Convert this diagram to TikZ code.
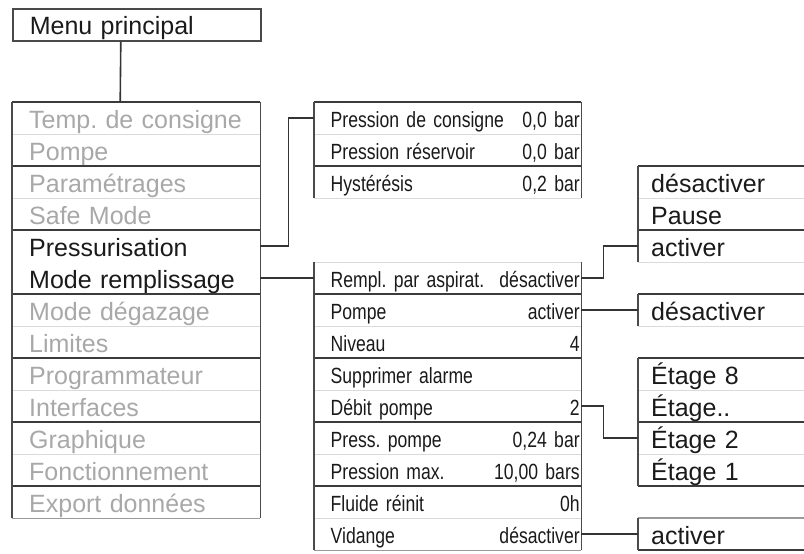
\documentclass[tikz,border=0pt]{standalone}
\usepackage{fontspec}
\setmainfont{Liberation Sans}
\newfontfamily\narrowfont[FakeStretch=0.8]{Liberation Sans}
\usetikzlibrary{positioning}
\frenchspacing

\definecolor{framegray}{HTML}{4A4A4A}
\definecolor{sepgray}{HTML}{DADADA}
\definecolor{endgray}{HTML}{9A9A9A}
\definecolor{dimtext}{HTML}{A8A8A8}
\definecolor{inktext}{HTML}{1A1A1A}

\tikzset{
  menurow/.style = {
    rectangle, inner xsep=0pt, inner ysep=0pt, anchor=north west,
    minimum height=32pt, text width=248pt, align=left,
    text height=24pt, text depth=4pt, text=inktext,
    font=\fontsize{25}{28}\selectfont
  },
  dimrow/.style = { menurow, text=dimtext },
  subrow/.style = {
    rectangle, inner xsep=1.5pt, inner ysep=0pt, anchor=north west,
    minimum height=32pt, text width=264pt, align=left,
    text height=22pt, text depth=4pt, text=inktext,
    font=\narrowfont\fontsize{22}{26}\selectfont
  },
  optrow/.style = { menurow, text width=166pt },
  indent/.style = { execute at begin node={\hspace*{#1}} },
  boxside/.style = { draw=framegray, line width=1.6pt },
  pagebreak/.style = { draw=framegray!80!black, line width=2pt },
  rowsep/.style = { draw=sepgray, line width=1pt },
  openend/.style = { draw=endgray, line width=1.2pt },
  link/.style = { draw=framegray!70!black, line width=1.6pt }
}

\begin{document}
\begin{tikzpicture}[x=1pt, y=-1pt]
  \useasboundingbox (0,0) rectangle (804,554);

    % ------------------------------------------------------------- Top menu
    \node [menurow, indent=17pt, boxside] (menu) at (12,8) {Menu principal};

    % ---------------------------------------------------------- Main list
    \node [dimrow,  indent=17pt] (m1)  at (12,102) {Temp. de consigne};
    \node [dimrow,  indent=17pt] (m2)  at (12,134) {Pompe};
    \node [dimrow,  indent=17pt] (m3)  at (12,166) {Paramétrages};
    \node [dimrow,  indent=17pt] (m4)  at (12,198) {Safe Mode};
    \node [menurow, indent=17pt] (m5)  at (12,230) {Pressurisation};
    \node [menurow, indent=17pt] (m6)  at (12,262) {Mode remplissage};
    \node [dimrow,  indent=17pt] (m7)  at (12,294) {Mode dégazage};
    \node [dimrow,  indent=17pt] (m8)  at (12,326) {Limites};
    \node [dimrow,  indent=17pt] (m9)  at (12,358) {Programmateur};
    \node [dimrow,  indent=17pt] (m10) at (12,390) {Interfaces};
    \node [dimrow,  indent=17pt] (m11) at (12,422) {Graphique};
    \node [dimrow,  indent=17pt] (m12) at (12,454) {Fonctionnement};
    \node [dimrow,  indent=17pt] (m13) at (12,486) {Export données};

    % ---------------------------------------------------- Pressurisation
    \node [subrow, indent=15pt] (p1) at (314,102) {Pression de consigne\hfill 0,0 bar};
    \node [subrow, indent=15pt] (p2) at (314,134) {Pression réservoir\hfill 0,0 bar};
    \node [subrow, indent=15pt] (p3) at (314,166) {Hystérésis\hfill 0,2 bar};

    % -------------------------------------------------- Mode remplissage
    \node [subrow, indent=15pt] (r1) at (314,262) {Rempl. par aspirat.\hfill désactiver};
    \node [subrow, indent=15pt] (r2) at (314,294) {Pompe\hfill activer};
    \node [subrow, indent=15pt] (r3) at (314,326) {Niveau\hfill 4};
    \node [subrow, indent=15pt] (r4) at (314,358) {Supprimer alarme};
    \node [subrow, indent=15pt] (r5) at (314,390) {Débit pompe\hfill 2};
    \node [subrow, indent=15pt] (r6) at (314,422) {Press. pompe\hfill 0,24 bar};
    \node [subrow, indent=15pt] (r7) at (314,454) {Pression max.\hfill 10,00 bars};
    \node [subrow, indent=15pt] (r8) at (314,486) {Fluide réinit\hfill 0h};
    \node [subrow, indent=15pt] (r9) at (314,518) {Vidange\hfill désactiver};

    % ----------------------------------------------------------- Options
    \node [optrow, indent=13pt] (a1) at (638,166) {désactiver};
    \node [optrow, indent=13pt] (a2) at (638,198) {Pause};
    \node [optrow, indent=13pt] (a3) at (638,230) {activer};

    \node [optrow, indent=13pt] (d1) at (638,294) {désactiver};

    \node [optrow, indent=13pt] (e1) at (638,358) {Étage 8};
    \node [optrow, indent=13pt] (e2) at (638,390) {Étage..};
    \node [optrow, indent=13pt] (e3) at (638,422) {Étage 2};
    \node [optrow, indent=13pt] (e4) at (638,454) {Étage 1};

    \node [optrow, indent=13pt] (v1) at (638,518) {activer};

    % -------------------------------------------------- Main list lines
    \draw [pagebreak] (m1.north west)  -- (m1.north east);
    \draw [rowsep]    (m1.south west)  -- (m1.south east);
    \draw [pagebreak] (m2.south west)  -- (m2.south east);
    \draw [rowsep]    (m3.south west)  -- (m3.south east);
    \draw [pagebreak] (m4.south west)  -- (m4.south east);
    \draw [pagebreak] (m6.south west)  -- (m6.south east);
    \draw [rowsep]    (m7.south west)  -- (m7.south east);
    \draw [pagebreak] (m8.south west)  -- (m8.south east);
    \draw [rowsep]    (m9.south west)  -- (m9.south east);
    \draw [pagebreak] (m10.south west) -- (m10.south east);
    \draw [rowsep]    (m11.south west) -- (m11.south east);
    \draw [pagebreak] (m12.south west) -- (m12.south east);
    \draw [openend]   (m13.south west) -- (m13.south east);
    \draw [boxside]   (m1.north west)  -- (m13.south west);
    \draw [boxside]   (m1.north east)  -- (m13.south east);

    % ------------------------------------------------ Sub list lines
    \draw [pagebreak] (p1.north west) -- (p1.north east);
    \draw [rowsep]    (p1.south west) -- (p1.south east);
    \draw [pagebreak] (p2.south west) -- (p2.south east);
    \draw [rowsep]    (p3.south west) -- (p3.south east);
    \draw [boxside]   (p1.north west) -- (p3.south west);
    \draw [boxside]   (p1.north east) -- (p3.south east);

    \draw [rowsep]    (r1.north west) -- (r1.north east);
    \draw [pagebreak] (r1.south west) -- (r1.south east);
    \draw [rowsep]    (r2.south west) -- (r2.south east);
    \draw [pagebreak] (r3.south west) -- (r3.south east);
    \draw [rowsep]    (r4.south west) -- (r4.south east);
    \draw [pagebreak] (r5.south west) -- (r5.south east);
    \draw [rowsep]    (r6.south west) -- (r6.south east);
    \draw [pagebreak] (r7.south west) -- (r7.south east);
    \draw [rowsep]    (r8.south west) -- (r8.south east);
    \draw [openend]   (r9.south west) -- (r9.south east);
    \draw [boxside]   (r1.north west) -- (r9.south west);
    \draw [boxside]   (r1.north east) -- (r9.south east);

    % --------------------------------------------------- Option lines
    \draw [pagebreak] (a1.north west) -- (a1.north east);
    \draw [rowsep]    (a1.south west) -- (a1.south east);
    \draw [pagebreak] (a2.south west) -- (a2.south east);
    \draw [rowsep]    (a3.south west) -- (a3.south east);
    \draw [boxside]   (a1.north west) -- (a3.south west);

    \draw [pagebreak] (d1.north west) -- (d1.north east);
    \draw [rowsep]    (d1.south west) -- (d1.south east);
    \draw [boxside]   (d1.north west) -- (d1.south west);

    \draw [pagebreak] (e1.north west) -- (e1.north east);
    \draw [rowsep]    (e1.south west) -- (e1.south east);
    \draw [pagebreak] (e2.south west) -- (e2.south east);
    \draw [rowsep]    (e3.south west) -- (e3.south east);
    \draw [pagebreak] (e4.south west) -- (e4.south east);
    \draw [boxside]   (e1.north west) -- (e4.south west);

    \draw [openend]   (v1.north west) -- (v1.north east);
    \draw [pagebreak] (v1.south west) -- (v1.south east);
    \draw [boxside]   (v1.north west) -- (v1.south west);

    % ------------------------------------------------------- Connectors
    \draw [link] ([xshift=-16pt]menu.south) -- ([xshift=-16pt]m1.north);
    \draw [link] (m5.east) -- ++(28,0) |- (p1.west);
    \draw [link] (m6.east) -- (r1.west);
    \draw [link] (r1.east) -- ++(22,0) |- (a3.west);
    \draw [link] (r2.east) -- (d1.west);
    \draw [link] (r5.east) -- ++(22,0) |- (e3.west);
    \draw [link] (r9.east) -- (v1.west);

  \end{tikzpicture}
\end{document}
